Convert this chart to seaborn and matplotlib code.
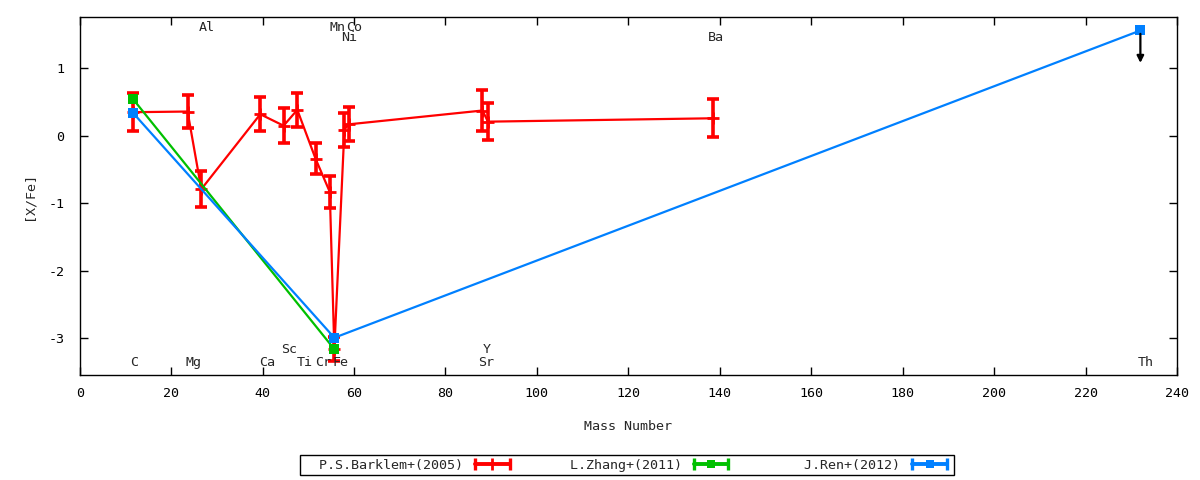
import pandas as pd
import seaborn as sns
import matplotlib.pyplot as plt
from matplotlib.lines import Line2D
from matplotlib.legend_handler import HandlerLine2D, HandlerTuple

# [X/Fe] against mass number
barklem_mass = [11.6, 23.6, 26.6, 39.5, 44.6, 47.6, 51.6, 54.7, 55.7, 57.9, 58.8, 88.1, 89.3, 138.5]
barklem_xfe = [0.35, 0.36, -0.79, 0.32, 0.15, 0.385, -0.34, -0.83, -3.16, 0.09, 0.17, 0.375, 0.21, 0.26]
barklem_err = [0.28, 0.24, 0.27, 0.25, 0.26, 0.25, 0.23, 0.24, 0.18, 0.25, 0.25, 0.31, 0.27, 0.28]

zhang_mass = [11.6, 55.7]
zhang_xfe = [0.55, -3.16]

ren_mass = [11.6, 55.7, 232.0]
ren_xfe = [0.345, -2.99, 1.56]
th_limit = 0.48  # upper limit arrow for Th

element_names = ['C', 'Mg', 'Ca', 'Sc', 'Ti', 'Cr', 'Fe', 'Sr', 'Y', 'Th',
                 'Al', 'Mn', 'Co', 'Ni', 'Ba']
element_x = [12.0, 25.0, 41.1, 45.9, 49.3, 53.2, 57.1, 88.9, 89.1, 233.2,
             27.8, 56.3, 60.0, 59.0, 139.2]
element_y = [-3.36, -3.36, -3.36, -3.16, -3.36, -3.36, -3.36, -3.36, -3.16, -3.36,
             1.60, 1.60, 1.60, 1.46, 1.46]

RED = '#ff0000'
GREEN = '#00c000'
BLUE = '#0080ff'

sns.set_style('ticks')
plt.rcParams['font.family'] = ['DejaVu Sans Mono']
plt.rcParams['axes.unicode_minus'] = False
fs = 9.6

df_b = pd.DataFrame({'mass': barklem_mass, 'xfe': barklem_xfe})
df_z = pd.DataFrame({'mass': zhang_mass, 'xfe': zhang_xfe})
df_r = pd.DataFrame({'mass': ren_mass, 'xfe': ren_xfe})

fig = plt.figure(figsize=(12, 4.8), dpi=100)
ax = fig.add_axes([0.0664, 0.219, 0.9144, 0.7456])

sns.lineplot(data=df_b, x='mass', y='xfe', sort=False, estimator=None, ax=ax,
             color=RED, lw=1.6, marker='+', markersize=9, markeredgewidth=2,
             markeredgecolor=RED)
ax.errorbar(barklem_mass, barklem_xfe, yerr=barklem_err, fmt='none', ecolor=RED,
            elinewidth=2.6, capsize=4.5, capthick=2.6)
sns.lineplot(data=df_z, x='mass', y='xfe', sort=False, estimator=None, ax=ax,
             color=GREEN, lw=1.6, marker='s', markersize=7, markeredgewidth=0)
sns.lineplot(data=df_r, x='mass', y='xfe', sort=False, estimator=None, ax=ax,
             color=BLUE, lw=1.6, marker='s', markersize=7, markeredgewidth=0)

ax.annotate('', xy=(ren_mass[-1], ren_xfe[-1] - th_limit),
            xytext=(ren_mass[-1], ren_xfe[-1] - 0.05),
            arrowprops=dict(arrowstyle='-|>', color='black', lw=1.6,
                            mutation_scale=10, shrinkA=0, shrinkB=0))

for name, x, y in zip(element_names, element_x, element_y):
    ax.text(x, y, name, ha='center', va='center', fontsize=fs)

ax.set_xlim(0, 240)
ax.set_ylim(-3.54, 1.76)
ax.set_xticks(range(0, 241, 20))
ax.set_yticks([-3, -2, -1, 0, 1])
ax.tick_params(direction='in', length=6, width=1, top=True, right=True,
               labelsize=fs, colors='black')
ax.tick_params(axis='x', pad=9)
ax.tick_params(axis='y', pad=11)
for s in ax.spines.values():
    s.set_linewidth(1)
    s.set_color('black')
ax.set_xlabel('Mass Number', fontsize=fs, labelpad=14)
ax.set_ylabel('[X/Fe]', fontsize=fs, labelpad=9)


def key(color, marker, ms):
    caps = Line2D([0], [0], color=color, lw=2.8, marker='|', markersize=8,
                  markeredgewidth=2.4)
    mid = Line2D([0], [0], color=color, lw=0, marker=marker, markersize=ms,
                 markeredgewidth=2 if marker == '|' else 0)
    return (caps, mid)


keys = [key(RED, '|', 8), key(GREEN, 's', 6), key(BLUE, 's', 6)]
hmap = {tuple: HandlerTuple(ndivide=1)}
for caps, mid in keys:
    hmap[caps] = HandlerLine2D(numpoints=2)
    hmap[mid] = HandlerLine2D(numpoints=1)
labels = ['  P.S.Barklem+(2005)', '      L.Zhang+(2011)', '        J.Ren+(2012)']
leg = fig.legend(keys, labels, handler_map=hmap, loc='center',
                 bbox_to_anchor=(0.5225, 0.031), ncol=3, fontsize=fs,
                 markerfirst=False, frameon=True, fancybox=False,
                 edgecolor='black', framealpha=1, borderpad=0.25,
                 handlelength=3.2, handletextpad=0.6, columnspacing=0.6,
                 borderaxespad=0)
leg.get_frame().set_linewidth(1)

fig.savefig('out.png', dpi=100)
